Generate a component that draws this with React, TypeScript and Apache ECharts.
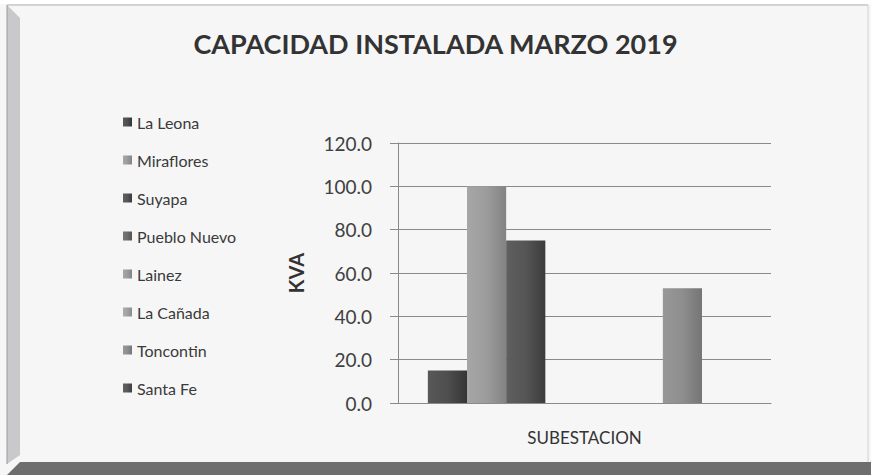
import React, { useEffect, useRef } from "react";
import * as echarts from "echarts";

const categories = [""];
const seriesNames = ["La Leona", "Miraflores", "Suyapa", "Pueblo Nuevo", "Lainez", "La Cañada", "Toncontin", "Santa Fe"];
const seriesValues = [15, 100, 75, 0, 0, 0, 53, 0];
const seriesColors = ["#4e4e4e", "#9c9c9c", "#555555", "#6c6c6c", "#9c9c9c", "#a2a2a2", "#8e8e8e", "#575757"];
const yTicks = [0, 20, 40, 60, 80, 100, 120];

function shade(hex: string, d: number) {
  const n = parseInt(hex.slice(1), 16);
  const c = (v: number) => Math.max(0, Math.min(255, v + d));
  const r = c((n >> 16) & 255), g = c((n >> 8) & 255), b = c(n & 255);
  return `rgb(${r},${g},${b})`;
}

export default function App() {
  const ref = useRef<HTMLDivElement>(null);
  useEffect(() => {
    document.body.style.margin = "0";
    const chart = echarts.init(ref.current!, null, { renderer: "svg" });
    const font = "Lato, 'Open Sans', sans-serif";
    chart.setOption({
      animation: false,
      backgroundColor: "#f6f6f7",
      title: {
        text: "CAPACIDAD INSTALADA MARZO 2019",
        left: "center",
        top: 25,
        textStyle: { fontFamily: font, fontSize: 27, fontWeight: "bold", color: "#333" },
      },
      legend: {
        orient: "vertical",
        left: 118,
        top: 109,
        itemWidth: 9,
        itemHeight: 9,
        itemGap: 22,
        icon: "rect",
        data: seriesNames,
        textStyle: { fontFamily: font, fontSize: 16, color: "#3a3a3a", lineHeight: 16 },
      },
      grid: { left: 398, right: 100, top: 143, bottom: 72 },
      xAxis: {
        type: "category",
        data: categories,
        name: "SUBESTACION",
        nameLocation: "middle",
        nameGap: 26,
        nameTextStyle: { fontFamily: font, fontSize: 17, color: "#333" },
        axisLine: { show: true, lineStyle: { color: "#8a8a8a" } },
        axisTick: { show: false },
        axisLabel: { show: false },
      },
      yAxis: {
        type: "value",
        min: yTicks[0],
        max: yTicks[yTicks.length - 1],
        interval: 20,
        name: "KVA",
        nameLocation: "middle",
        nameGap: 92,
        nameTextStyle: { fontFamily: font, fontSize: 20, fontWeight: "bold", color: "#333" },
        axisLine: { show: true, lineStyle: { color: "#8a8a8a" } },
        axisTick: { show: true, length: 8, inside: false, lineStyle: { color: "#8a8a8a" } },
        axisLabel: {
          fontFamily: font,
          fontSize: 19,
          color: "#404040",
          margin: 26,
          formatter: (v: number) => v.toFixed(1),
        },
        splitLine: { show: true, lineStyle: { color: "#8a8a8a", width: 1 } },
      },
      series: seriesNames.map((name, i) => ({
        name,
        type: "bar",
        data: [seriesValues[i]],
        barGap: "0%",
        barCategoryGap: "16%",
        itemStyle: {
          color: {
            type: "linear",
            x: 0, y: 0, x2: 1, y2: 0,
            colorStops: [
              { offset: 0, color: shade(seriesColors[i], 10) },
              { offset: 0.5, color: shade(seriesColors[i], 0) },
              { offset: 1, color: shade(seriesColors[i], -25) },
            ],
          },
          borderWidth: 0,
        },
      })),
      graphic: [
        { type: "rect", shape: { x: 0, y: 0, width: 871, height: 4 }, style: { fill: "#ffffff" } },
        { type: "line", shape: { x1: 7, y1: 5, x2: 868, y2: 5 }, style: { stroke: "#b0b0b0", lineWidth: 1 } },
        { type: "line", shape: { x1: 868, y1: 5, x2: 868, y2: 462 }, style: { stroke: "#d0d0d0", lineWidth: 1 } },
        { type: "polygon", shape: { points: [[7, 5], [20, 18], [20, 455], [7, 464]] }, style: { fill: "#c9c9cb" } },
        { type: "line", shape: { x1: 7, y1: 5, x2: 7, y2: 464 }, style: { stroke: "#9a9a9a", lineWidth: 1 } },
        { type: "polygon", shape: { points: [[7, 475], [20, 462], [871, 462], [871, 475]] }, style: { fill: "#6e6e6e" } },
      ],
    });
    return () => chart.dispose();
  }, []);
  return <div ref={ref} style={{ width: 871, height: 475 }} />;
}
